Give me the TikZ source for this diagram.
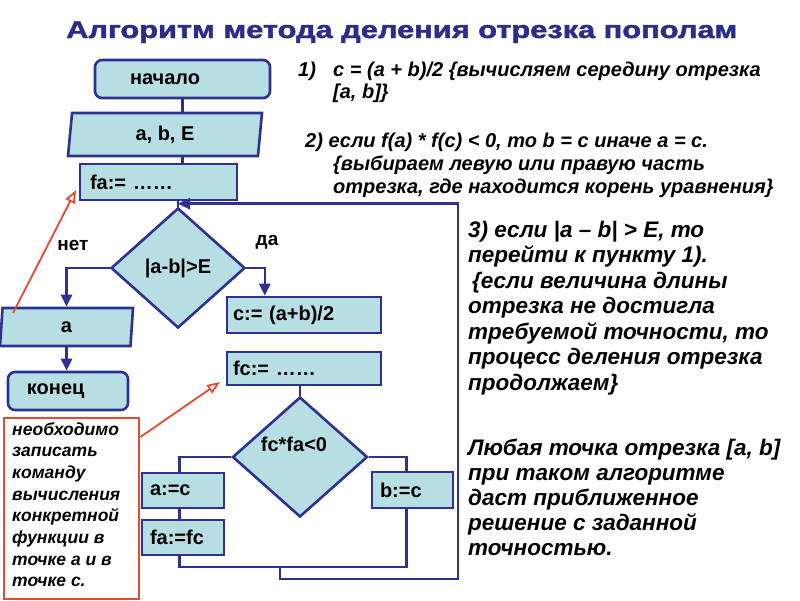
\documentclass[tikz,border=0pt]{standalone}
\usepackage{fontspec}
\setmainfont{Liberation Sans}
\newfontfamily\titlefont[BoldFeatures={FakeBold=1.6}]{Liberation Sans}
\usepackage{graphicx}
\usetikzlibrary{shapes.geometric,arrows.meta,calc}
\definecolor{navy}{RGB}{46,49,146}
\definecolor{boxfill}{RGB}{183,223,227}
\definecolor{redc}{RGB}{232,72,44}
\definecolor{titlec}{RGB}{43,45,138}
\begin{document}
\begin{tikzpicture}[x=1pt,y=-1pt,
  fl/.style={draw=navy, fill=boxfill, line width=2.6pt, font=\fontsize{20}{22}\selectfont\bfseries, inner ysep=0pt, align=left},
  rbox/.style={fl, rectangle},
  rrbox/.style={fl, rectangle, rounded corners=7pt},
  para/.style={fl, trapezium, trapezium left angle=77, trapezium right angle=103, trapezium stretches body, align=center, inner xsep=0pt},
  dia/.style={fl, diamond, inner sep=0pt, align=center},
  ln/.style={draw=navy, line width=2.6pt},
  arr/.style={ln, -{Triangle[length=12pt,width=11pt]}},
  rarr/.style={draw=redc, line width=1.8pt, -{Triangle[open,length=13pt,width=10pt]}},
  lbl/.style={inner sep=0pt, font=\fontsize{19}{22}\selectfont\bfseries},
  txt/.style={anchor=base west, inner sep=0pt, font=\bfseries\itshape}
]
\useasboundingbox (0,0) rectangle (800,600);

% title
\node[anchor=base west, inner sep=0pt] (title) at (66,38)
  {\resizebox{671pt}{16.7pt}{\color{titlec}\titlefont\bfseries Алгоритм метода деления отрезка пополам}};

% flowchart nodes
\node[rrbox, minimum height=38pt, text width=105pt, inner xsep=35pt] (start) at (182.5,79) {начало};
\node[para, minimum width=194pt, minimum height=43pt] (inp) at (165,134.5) {a, b, E};
\node[rbox, minimum height=36pt, text width=137pt, inner xsep=10pt] (fa) at (158.5,182) {fa:= ……};
\node[dia, minimum width=134pt, minimum height=120pt] (d1) at (178,268) {|a-b|>E};
\node[para, minimum width=133pt, minimum height=38pt] (out) at (66.5,327) {a};
\node[rrbox, minimum height=38pt, text width=82pt, inner xsep=19pt] (end) at (68,391) {конец};
\node[rbox, minimum height=36pt, text width=142pt, inner xsep=6pt] (c1) at (304,315) {c:= (a+b)/2};
\node[rbox, minimum height=33pt, text width=142pt, inner xsep=6pt] (fc) at (304,368.5) {fc:= ……};
\node[dia, minimum width=135pt, minimum height=120pt] (d2) at (300,457) {fc*fa<0\hspace*{12pt}\\[4pt]\mbox{}};
\node[rbox, minimum height=35pt, text width=66pt, inner xsep=8pt] (ac) at (183,490.5) {a:=c};
\node[rbox, minimum height=35pt, text width=66pt, inner xsep=8pt] (fafc) at (183,537.5) {fa:=fc};
\node[rbox, minimum height=36pt, text width=65pt, inner xsep=8pt] (bc) at (412.5,490) {b:=c};

\node[lbl] (no) at (73,245) {нет};
\node[lbl] (yes) at (267,242) {да};

% connectors
\draw[ln] (start.south) -- (start.south |- inp.north);
\draw[ln] (start.south |- inp.south) -- (start.south |- fa.north);
\draw[ln] (d1.north |- fa.south) -- (d1.north);
\draw[arr] (d1.west) -| (out.north);
\draw[arr] (d1.east) -| ($(c1.north west)!0.25!(c1.north east)$);
\draw[arr] (out.south) -- (out.south |- end.north);
\draw[ln] (d2.north |- fc.south) -- (d2.north);
\draw[ln] (d2.west) -| ($(ac.north west)!0.46!(ac.north east)$);
\draw[ln] ($(ac.south west)!0.46!(ac.south east)$) -- ($(fafc.north west)!0.46!(fafc.north east)$);
\draw[ln] (d2.east) -| ($(bc.north west)!0.43!(bc.north east)$);
\coordinate (join) at (280,567);
\coordinate (back) at (458,579);
\coordinate (entry) at ($(d1.north)+(0,-3)$);
\draw[ln] ($(fafc.south west)!0.46!(fafc.south east)$) |- (join) -| ($(bc.south west)!0.43!(bc.south east)$);
\draw[arr] (join) |- (back) |- (entry);

% note
\node[draw=redc, fill=white, line width=2.4pt, minimum width=135pt, minimum height=181pt, anchor=north west, inner sep=0pt] (note) at (3,417) {};
\node[txt, anchor=base west] (notetext) at (12,435) {\parbox[t]{124pt}{\fontsize{17.5}{21.7}\selectfont\bfseries\itshape\raggedright
необходимо\\записать\\команду\\вычисления\\конкретной\\функции в\\точке а и в\\точке с.}};

% red arrows
\coordinate (r1a) at (13,313);
\coordinate (r1b) at (76,190);
\draw[rarr] (r1a) -- (r1b);
\coordinate (r2b) at (220,382);
\draw[rarr] ($(note.north east)+(0,20)$) -- (r2b);

% right texts
\node[txt, font=\fontsize{20}{22}\selectfont\bfseries\itshape] (n1) at (298,76) {1)};
\node[txt] (t1) at (333,76) {\parbox[t]{460pt}{\fontsize{20}{22}\selectfont\bfseries\itshape\raggedright
c = (a + b)/2 \{вычисляем середину отрезка\\{}[a, b]\}}};
\node[txt] (t2) at (305,147) {\parbox[t]{480pt}{\fontsize{20}{23}\selectfont\bfseries\raggedright
2) если \itshape f(a) * f(c) < 0, то b = c иначе a = c.\\
\hspace*{28pt}\{выбираем левую или правую часть\\
\hspace*{28pt}отрезка, где находится корень уравнения\}}};
\node[txt] (t3) at (468,237) {\parbox[t]{330pt}{\fontsize{22.5}{25.5}\selectfont\bfseries\itshape\raggedright
3) если |a – b| > E, то\\
перейти к пункту 1).\\
\hspace*{4pt}\{если величина длины\\
отрезка не достигла\\
требуемой точности, то\\
процесс деления отрезка\\
продолжаем\}}};
\node[txt] (t4) at (468,455) {\parbox[t]{330pt}{\fontsize{22.5}{25}\selectfont\bfseries\itshape\raggedright
Любая точка отрезка [a, b]\\
при таком алгоритме\\
даст приближенное\\
решение с заданной\\
точностью.}};
\end{tikzpicture}
\end{document}
